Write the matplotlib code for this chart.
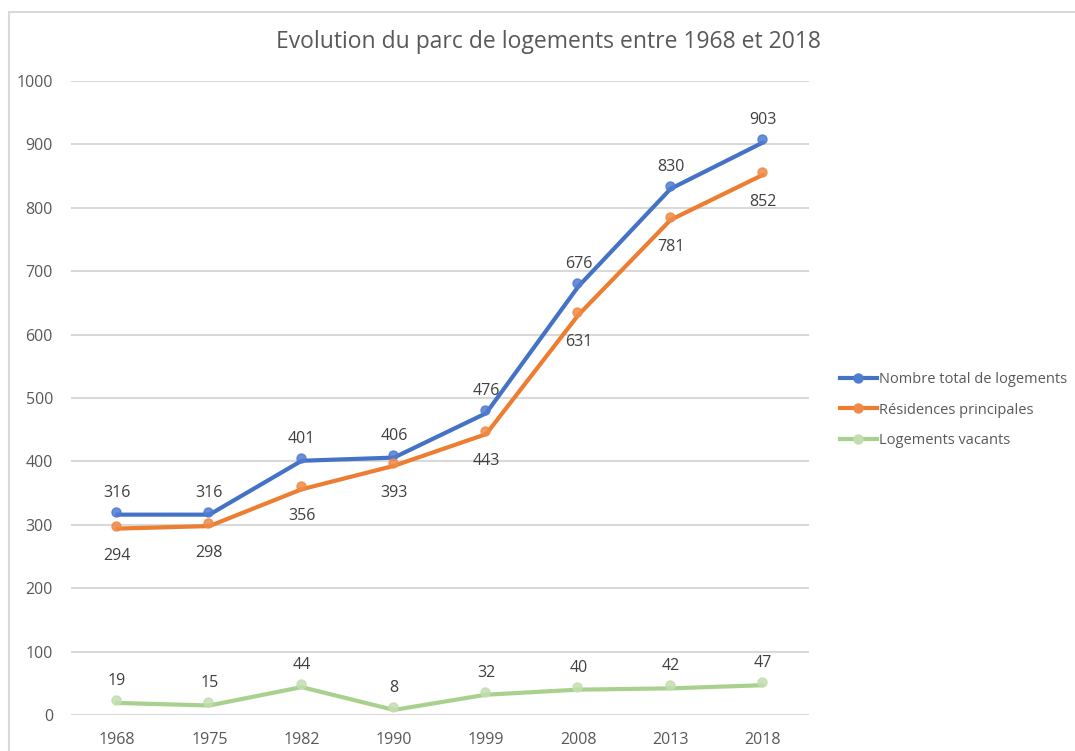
import matplotlib

matplotlib.use("Agg")
import matplotlib.pyplot as plt
import matplotlib.transforms as mtransforms
from matplotlib.patches import Rectangle

plt.rcParams["font.family"] = ["Open Sans", "DejaVu Sans"]

YEARS = ["1968", "1975", "1982", "1990", "1999", "2008", "2013", "2018"]
TOTAL = [316, 316, 401, 406, 476, 676, 830, 903]
PRINCIPALES = [294, 298, 356, 393, 443, 631, 781, 852]
VACANTS = [19, 15, 44, 8, 32, 40, 42, 47]

TEXT_GREY = "#595959"
LABEL_GREY = "#404040"
GRID_GREY = "#D9D9D9"

SERIES = [
    ("Nombre total de logements", TOTAL, "#4472C4", "#4F7BD0", 1),
    ("Résidences principales", PRINCIPALES, "#ED7D31", "#EF8A47", -1),
    ("Logements vacants", VACANTS, "#A9D18E", "#C3DDB0", 1),
]

W, H = 1075, 751
fig = plt.figure(figsize=(W / 100, H / 100), dpi=100)
fig.patch.set_facecolor("white")

# chart frame, cut off on right and bottom like the screenshot
fig.patches.append(Rectangle((9 / W, -0.05), 1.2, (H - 12) / H + 0.05,
                             transform=fig.transFigure, fill=False,
                             edgecolor="#D9D9D9", linewidth=1.5))

ax = fig.add_axes([71 / W, (H - 715) / H, (809 - 71) / W, (715 - 81) / H])
x = list(range(len(YEARS)))

marker_shift = mtransforms.ScaledTranslation(-1 / 100, 3 / 100, fig.dpi_scale_trans)
handles = []
for name, vals, color, mcolor, side in SERIES:
    ax.plot(x, vals, color=color, linewidth=3, solid_capstyle="round", zorder=3)
    ax.plot(x, vals, linestyle="none", marker="o", markersize=6.5,
            markerfacecolor=mcolor, markeredgecolor=mcolor, alpha=0.85,
            transform=ax.transData + marker_shift, zorder=4)
    for xi, v in zip(x, vals):
        off = 22 if side > 0 else -27
        ax.annotate(str(v), (xi, v), xytext=(0, off), textcoords="offset pixels",
                    ha="center", va="center", fontsize=11.5, color=LABEL_GREY)
    h, = ax.plot([], [], color=color, linewidth=3, marker="o", markersize=6.5,
                 markerfacecolor=mcolor, markeredgecolor=mcolor)
    handles.append((h, name))

ax.set_xlim(-0.5, len(YEARS) - 0.5)
ax.set_ylim(0, 1000)
ax.set_yticks(range(0, 1001, 100))
ax.set_xticks(x)
ax.set_xticklabels(YEARS)
ax.grid(axis="y", color=GRID_GREY, linewidth=1.5)
ax.set_axisbelow(True)
for s in ax.spines.values():
    s.set_visible(False)
ax.tick_params(axis="both", length=0, labelsize=11.5, labelcolor=TEXT_GREY)
ax.tick_params(axis="y", pad=13)
ax.tick_params(axis="x", pad=12)

fig.text(548 / W, 1 - 42 / H, "Evolution du parc de logements entre 1968 et 2018",
         ha="center", va="center", fontsize=16.5, color=TEXT_GREY)

fig.legend([h for h, _ in handles], [n for _, n in handles],
           loc="center left", bbox_to_anchor=(830 / W, 1 - 410 / H),
           frameon=False, fontsize=10.5, labelcolor=TEXT_GREY,
           handlelength=2.5, handletextpad=0.15, labelspacing=1.05,
           borderpad=0.2)

fig.savefig("out.png", dpi=100, facecolor="white")
